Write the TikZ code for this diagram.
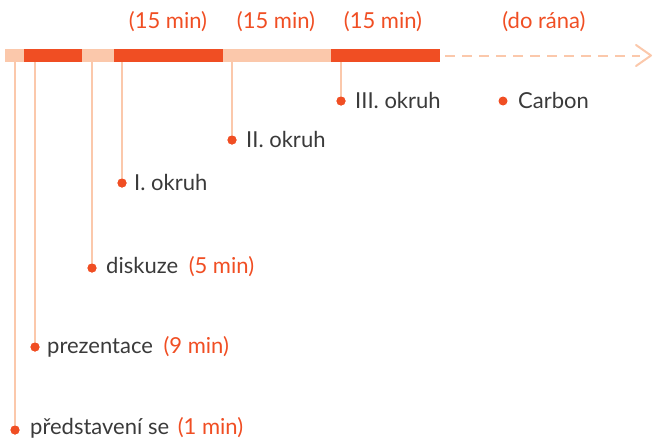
\documentclass[tikz,border=0pt]{standalone}
\usepackage{fontspec}
\setmainfont{Lato}
\usetikzlibrary{arrows.meta}
\definecolor{darkor}{HTML}{F04E23}
\definecolor{lightor}{HTML}{FBC8AB}
\definecolor{txt}{HTML}{3A3A3A}
\begin{document}
\begin{tikzpicture}[x=1pt,y=-1pt,
  seglight/.style={fill=lightor,draw=none},
  segdark/.style={fill=darkor,draw=none},
  stem/.style={draw=lightor,line width=2pt},
  dot/.style={circle,fill=darkor,inner sep=0pt,minimum size=9pt},
  lbl/.style={anchor=west,text=txt,font=\fontsize{22}{26}\selectfont,inner sep=0pt},
  dur/.style={text=darkor,font=\fontsize{22}{26}\selectfont,inner sep=0pt}]
\useasboundingbox (0,0) rectangle (653,439);
% bar
\fill[seglight] (5,49) rectangle (24,62);
\fill[segdark] (24,49) rectangle (82,62);
\fill[seglight] (82,49) rectangle (114,62);
\fill[segdark] (114,49) rectangle (223,62);
\fill[seglight] (223,49) rectangle (331,62);
\fill[segdark] (331,49) rectangle (440,62);
% dashed arrow
\coordinate (as) at (445,55.5);
\coordinate (ae) at (651,55.5);
\draw[draw=lightor,line width=2pt,dash pattern=on 10pt off 7pt] (as) -- (640,55.5);
\draw[draw=lightor,line width=2pt,line cap=round,line join=round] (636,45) -- (ae) -- (636,66);
% top durations
\node[dur] (d1) at (168,22) {(15 min)};
\node[dur] (d2) at (276,22) {(15 min)};
\node[dur] (d3) at (383,22) {(15 min)};
\node[dur] (d4) at (544,22) {(do rána)};
% top coordinates on bar
\coordinate (t1) at (15,62);
\coordinate (t2) at (35,62);
\coordinate (t3) at (92,62);
\coordinate (t4) at (122,62);
\coordinate (t5) at (232,62);
\coordinate (t6) at (341,62);
% dots
\node[dot] (p1) at (15,430) {};
\node[dot] (p2) at (35,347) {};
\node[dot] (p3) at (92,268) {};
\node[dot] (p4) at (122,183) {};
\node[dot] (p5) at (232,140) {};
\node[dot] (p6) at (341,101) {};
\node[dot] (p7) at (503,101) {};
% stems
\draw[stem] (t1) -- (p1.center);
\draw[stem] (t2) -- (p2.center);
\draw[stem] (t3) -- (p3.center);
\draw[stem] (t4) -- (p4.center);
\draw[stem] (t5) -- (p5.center);
\draw[stem] (t6) -- (p6.center);
\node[dot] at (p1) {};\node[dot] at (p2) {};\node[dot] at (p3) {};
\node[dot] at (p4) {};\node[dot] at (p5) {};\node[dot] at (p6) {};
% labels
\node[lbl] (l1) at (30,428) {představení se\hspace{3pt} \textcolor{darkor}{(1 min)}};
\node[lbl] (l2) at (47,347) {prezentace\hspace{5pt} \textcolor{darkor}{(9 min)}};
\node[lbl] (l3) at (106,267) {diskuze\hspace{5pt} \textcolor{darkor}{(5 min)}};
\node[lbl] (l4) at (134,182) {I. okruh};
\node[lbl] (l5) at (246,139) {II. okruh};
\node[lbl] (l6) at (355,100) {III. okruh};
\node[lbl] (l7) at (518,100) {Carbon};
\end{tikzpicture}
\end{document}
